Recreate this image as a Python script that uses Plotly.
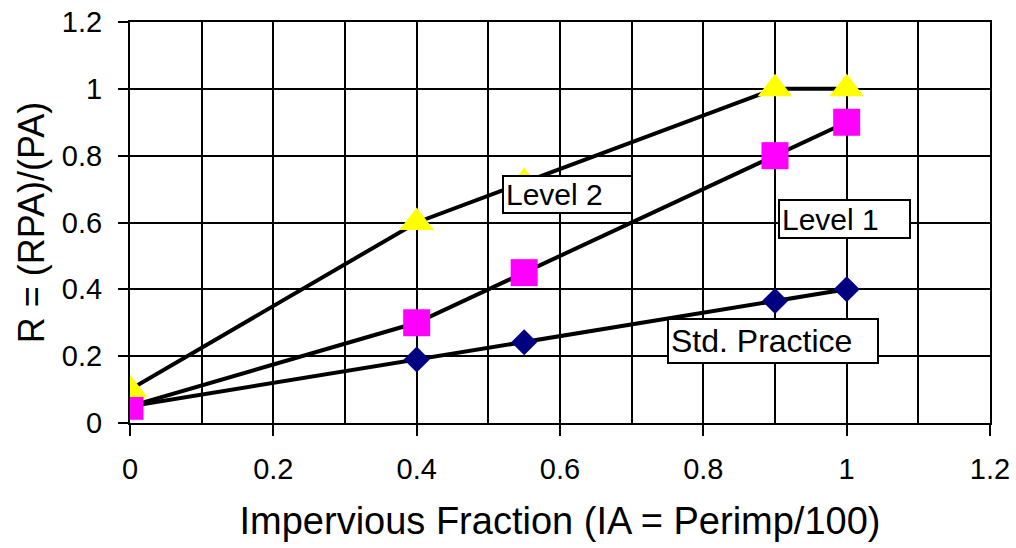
import plotly.graph_objects as go

# Data
x_vals = [0, 0.4, 0.55, 0.9, 1.0]
std_practice = [0.05, 0.19, 0.242, 0.365, 0.40]
level_1 = [0.05, 0.30, 0.45, 0.80, 0.90]
level_2 = [0.10, 0.60, 0.72, 1.00, 1.00]

x_title = "Impervious Fraction (IA = Perimp/100)"
y_title = "R = (RPA)/(PA)"
FONT = "Liberation Sans, Arial, sans-serif"

fig = go.Figure()
fig.add_trace(go.Scatter(
    x=x_vals, y=std_practice, mode="lines+markers", name="Std. Practice",
    line=dict(color="black", width=4),
    marker=dict(symbol="diamond", size=20, color="#000080", line=dict(width=0)),
))
fig.add_trace(go.Scatter(
    x=x_vals, y=level_1, mode="lines+markers", name="Level 1",
    line=dict(color="black", width=4),
    marker=dict(symbol="square", size=27, color="#FF00FF", line=dict(width=0)),
))
fig.add_trace(go.Scatter(
    x=x_vals, y=level_2, mode="lines+markers", name="Level 2",
    line=dict(color="black", width=4),
    marker=dict(symbol="triangle-up", size=30, color="#FFFF00", line=dict(width=0)),
))

def box(text, x, y, w, h, size):
    return dict(
        text=text, x=x, y=y, xref="x", yref="y", showarrow=False,
        xanchor="center", yanchor="middle", align="left",
        width=w, height=h, bgcolor="white", bordercolor="black",
        borderwidth=2, borderpad=2,
        font=dict(family=FONT, size=size, color="black"),
    )

fig.update_layout(
    width=1016, height=548,
    margin=dict(l=130, r=26, t=22, b=125),
    paper_bgcolor="white", plot_bgcolor="white",
    showlegend=False,
    font=dict(family=FONT, color="black"),
    annotations=[
        box("Level 2", 0.6105, 0.684, 123, 31, 30),
        box("Level 1", 0.997, 0.6105, 125, 32, 30),
        box("Std. Practice", 0.897, 0.2454, 204, 38, 32),
    ],
)
fig.update_xaxes(
    range=[0, 1.2], tick0=0, dtick=0.2, tickformat="~g", automargin=False,
    showgrid=True, gridcolor="black", gridwidth=2,
    minor=dict(dtick=0.1, showgrid=True, gridcolor="black", gridwidth=2, ticks=""),
    zeroline=False, showline=True, linecolor="black", linewidth=2, mirror=True,
    ticks="outside", ticklen=11, tickwidth=2, tickcolor="black",
    tickfont=dict(family=FONT, size=29, color="black"),
    ticklabelstandoff=8,
    title=dict(text=x_title, font=dict(family=FONT, size=38, color="black"), standoff=24),
)
fig.update_yaxes(
    range=[0, 1.2], tick0=0, dtick=0.2, tickformat="~g", automargin=False,
    showgrid=True, gridcolor="black", gridwidth=2,
    zeroline=False, showline=True, linecolor="black", linewidth=2, mirror=True,
    ticks="outside", ticklen=10, tickwidth=2, tickcolor="black",
    tickfont=dict(family=FONT, size=29, color="black"),
    ticklabelstandoff=10,
    title=dict(text=y_title, font=dict(family=FONT, size=36, color="black"), standoff=6),
)

fig.write_html("out.html")
